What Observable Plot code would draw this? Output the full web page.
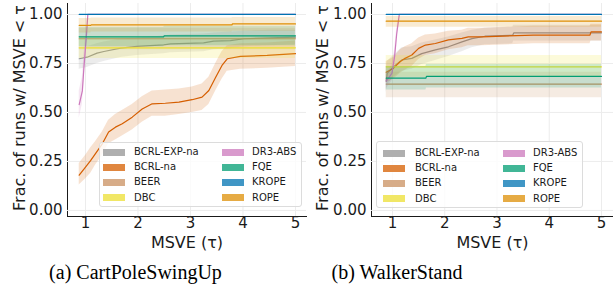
<!DOCTYPE html>
<html><head><meta charset="utf-8">
<script src="https://cdn.jsdelivr.net/npm/d3@7"></script>
<script src="https://cdn.jsdelivr.net/npm/@observablehq/plot@0.6"></script>
<style>
body{margin:0;background:#fff;}
#fig{position:relative;width:613px;height:291px;overflow:hidden;font-family:"DejaVu Sans",sans-serif;background:#fff;}
.panel{position:absolute;top:0;}
.legend{position:absolute;border:1px solid #dcdcdc;border-radius:3px;background:rgba(255,255,255,0.8);box-sizing:border-box;}
.legend .patch{position:absolute;height:7px;}
.legend .lab{position:absolute;font-size:10px;line-height:12px;color:#1a1a1a;white-space:nowrap;}
.caption{position:absolute;font-family:"Liberation Serif","Times New Roman",serif;font-size:20px;line-height:20px;color:#000;white-space:nowrap;transform:translateX(-50%);}
</style></head><body><div id="fig"></div>
<script>
const names = ["BCRL-EXP-na","BCRL-na","BEER","DBC","DR3-ABS","FQE","KROPE","ROPE"];
const lineColors = ["#949494","#D55E00","#CA9161","#ECE133","#CC78BC","#029E73","#0173B2","#DE8F05"];
const patchColors = ["#afafaf","#e0863f","#d7ac88","#f1e766","#d99acd","#41b696","#4096c5","#e6ab44"];
const xTicks = [1,2,3,4,5];
const yTicks = [0,0.25,0.5,0.75,1];
const xLabel = "MSVE (τ)";
const yLabel = "Frac. of runs w/ MSVE < τ";
const captions = ["(a) CartPoleSwingUp","(b) WalkerStand"];

// rows: [tau, mean, lower, upper]
const cartBCRLEXP = [[0.88,0.774,0.72,0.83],[1.03,0.782,0.73,0.835],[1.22,0.803,0.75,0.85],[1.35,0.811,0.76,0.86],[1.67,0.828,0.78,0.875],[1.98,0.837,0.79,0.88],[2.49,0.845,0.80,0.89],[2.62,0.85,0.805,0.895],[3.25,0.855,0.81,0.90],[3.44,0.864,0.82,0.905],[3.76,0.867,0.825,0.91],[4.02,0.876,0.835,0.915],[4.52,0.881,0.84,0.92],[5.0,0.884,0.845,0.92]];
const cartBCRLna = [[0.88,0.18,0.13,0.24],[1.0,0.221,0.16,0.28],[1.1,0.255,0.19,0.32],[1.19,0.29,0.23,0.35],[1.32,0.34,0.28,0.40],[1.44,0.40,0.34,0.46],[1.57,0.425,0.36,0.49],[1.70,0.442,0.38,0.51],[1.89,0.476,0.41,0.54],[2.08,0.518,0.45,0.58],[2.27,0.544,0.48,0.61],[2.52,0.547,0.48,0.615],[2.78,0.553,0.49,0.62],[3.03,0.565,0.50,0.63],[3.22,0.578,0.51,0.645],[3.35,0.612,0.54,0.68],[3.48,0.68,0.61,0.75],[3.60,0.74,0.67,0.81],[3.70,0.774,0.71,0.84],[3.95,0.786,0.72,0.85],[4.46,0.791,0.725,0.855],[5.0,0.80,0.735,0.865]];
const cartBEER = [[0.88,0.876,0.82,0.93],[5.0,0.876,0.82,0.93]];
const cartDBC = [[0.88,0.83,0.775,0.885],[5.0,0.83,0.775,0.885]];
const cartDR3 = [[0.88,0.54,0.47,0.61],[0.94,0.61,0.54,0.68],[0.97,0.73,0.66,0.80],[1.02,0.90,0.85,0.95],[1.044,1.0,1.0,1.0],[5.0,1.0,1.0,1.0]];
const cartFQE = [[0.88,0.886,0.835,0.935],[2.49,0.886,0.835,0.935],[2.5,0.891,0.84,0.94],[5.0,0.891,0.84,0.94]];
const cartKROPE = [[0.88,1.0,1.0,1.0],[5.0,1.0,1.0,1.0]];
const cartROPE = [[0.88,0.944,0.905,0.98],[1.1,0.944,0.905,0.98],[1.11,0.947,0.91,0.982],[3.79,0.947,0.91,0.982],[3.8,0.952,0.915,0.985],[5.0,0.952,0.915,0.985]];

const walkBCRLEXP = [[0.88,0.66,0.60,0.72],[0.9,0.70,0.64,0.76],[1.02,0.734,0.68,0.79],[1.18,0.768,0.71,0.83],[1.37,0.776,0.72,0.835],[1.56,0.80,0.745,0.855],[1.82,0.819,0.765,0.87],[2.07,0.835,0.785,0.885],[2.33,0.86,0.81,0.905],[2.52,0.877,0.83,0.92],[2.77,0.889,0.845,0.93],[3.3,0.894,0.85,0.935],[3.32,0.906,0.865,0.945],[5.0,0.906,0.865,0.945]];
const walkBCRLna = [[0.88,0.705,0.65,0.76],[1.02,0.726,0.67,0.78],[1.15,0.76,0.70,0.82],[1.24,0.776,0.715,0.835],[1.37,0.793,0.735,0.85],[1.50,0.827,0.77,0.88],[1.63,0.844,0.79,0.895],[1.82,0.852,0.80,0.90],[2.07,0.87,0.82,0.915],[2.33,0.878,0.83,0.92],[2.45,0.886,0.84,0.93],[2.71,0.886,0.84,0.93],[3.70,0.895,0.85,0.94],[4.78,0.895,0.85,0.94],[4.8,0.911,0.865,0.95],[5.0,0.911,0.865,0.95]];
const walkBEER = [[0.88,0.645,0.575,0.705],[5.0,0.645,0.575,0.705]];
const walkDBC = [[0.88,0.733,0.68,0.79],[5.0,0.733,0.68,0.79]];
const walkDR3 = [[0.88,0.66,0.62,0.70],[0.99,0.70,0.66,0.74],[1.04,0.785,0.75,0.82],[1.08,0.90,0.87,0.93],[1.13,1.0,1.0,1.0],[5.0,1.0,1.0,1.0]];
const walkFQE = [[0.88,0.675,0.615,0.735],[1.64,0.675,0.615,0.735],[1.65,0.684,0.625,0.745],[5.0,0.684,0.625,0.745]];
const walkKROPE = [[0.88,1.0,1.0,1.0],[5.0,1.0,1.0,1.0]];
const walkROPE = [[0.88,0.966,0.935,0.99],[5.0,0.966,0.935,0.99]];

const cartSeries = [cartBCRLEXP,cartBCRLna,cartBEER,cartDBC,cartDR3,cartFQE,cartKROPE,cartROPE];
const walkSeries = [walkBCRLEXP,walkBCRLna,walkBEER,walkDBC,walkDR3,walkFQE,walkKROPE,walkROPE];

const toRows = arr => arr.map(([tau,mean,lo,hi]) => ({tau,mean,lo,hi}));

function makePanel(series, xDomain, width, labelDx) {
  const marks = [
    Plot.ruleX(xTicks, {stroke:"#ececec"}),
    Plot.ruleY(yTicks, {stroke:"#ececec"})
  ];
  series.forEach((s,i) => {
    const rows = toRows(s);
    marks.push(Plot.areaY(rows, {x:"tau", y1:"lo", y2:"hi", fill:lineColors[i], fillOpacity:0.18}));
    marks.push(Plot.line(rows, {x:"tau", y:"mean", stroke:lineColors[i], strokeWidth:1.2}));
  });
  marks.push(Plot.text([xLabel], {text:d=>d, frameAnchor:"bottom", dy:26, fontSize:16, lineAnchor:"middle"}));
  marks.push(Plot.text([yLabel], {text:d=>d, frameAnchor:"left", dx:labelDx, dy:-2, rotate:-90, fontSize:16, textAnchor:"middle", lineAnchor:"middle"}));
  return Plot.plot({
    width, height:250, marginTop:3, marginBottom:34, marginLeft:67, marginRight:0,
    x:{domain:xDomain, ticks:xTicks, tickSize:0, tickPadding:1, tickFormat:d3.format("d"), line:true, label:null},
    y:{domain:[-0.031,1.056], ticks:yTicks, tickSize:0, tickPadding:5, tickFormat:d3.format(".2f"), line:true, label:null},
    style:{fontFamily:"DejaVu Sans", fontSize:"15px", color:"#1a1a1a", background:"transparent", overflow:"visible"},
    marks
  });
}

const fig = document.getElementById("fig");
const panels = [
  {series:cartSeries, dom:[0.657,5.21], left:0, width:306, dx:-48,
   leg:{l:99,t:142,w:203,h:65,p1:3,t1:34,p2:122,t2:152,r0:9,rs:15.2}, cap:135.5},
  {series:walkSeries, dom:[0.598,5.23], left:304, width:309, dx:-49,
   leg:{l:376,t:141,w:207,h:67,p1:6,t1:38,p2:126,t2:156,r0:11,rs:15.2}, cap:397}
];
panels.forEach((p,k) => {
  const svg = makePanel(p.series, p.dom, p.width, p.dx);
  svg.classList.add("panel");
  svg.style.left = p.left + "px";
  fig.appendChild(svg);
  const L = p.leg;
  const box = document.createElement("div");
  box.className = "legend";
  Object.assign(box.style, {left:L.l+"px", top:L.t+"px", width:L.w+"px", height:L.h+"px"});
  names.forEach((n,i) => {
    const col = i < 4 ? 0 : 1, row = i % 4;
    const cy = L.r0 + row*L.rs;
    const patch = document.createElement("div");
    patch.className = "patch";
    Object.assign(patch.style, {left:(col?L.p2:L.p1)+"px", top:(cy-3.5)+"px", width:"22px", background:patchColors[i]});
    const lab = document.createElement("div");
    lab.className = "lab";
    lab.textContent = n;
    Object.assign(lab.style, {left:(col?L.t2:L.t1)+"px", top:(cy-6)+"px"});
    box.appendChild(patch); box.appendChild(lab);
  });
  fig.appendChild(box);
  const cap = document.createElement("div");
  cap.className = "caption";
  cap.textContent = captions[k];
  Object.assign(cap.style, {left:p.cap+"px", top:"262px"});
  fig.appendChild(cap);
});
</script></body></html>
